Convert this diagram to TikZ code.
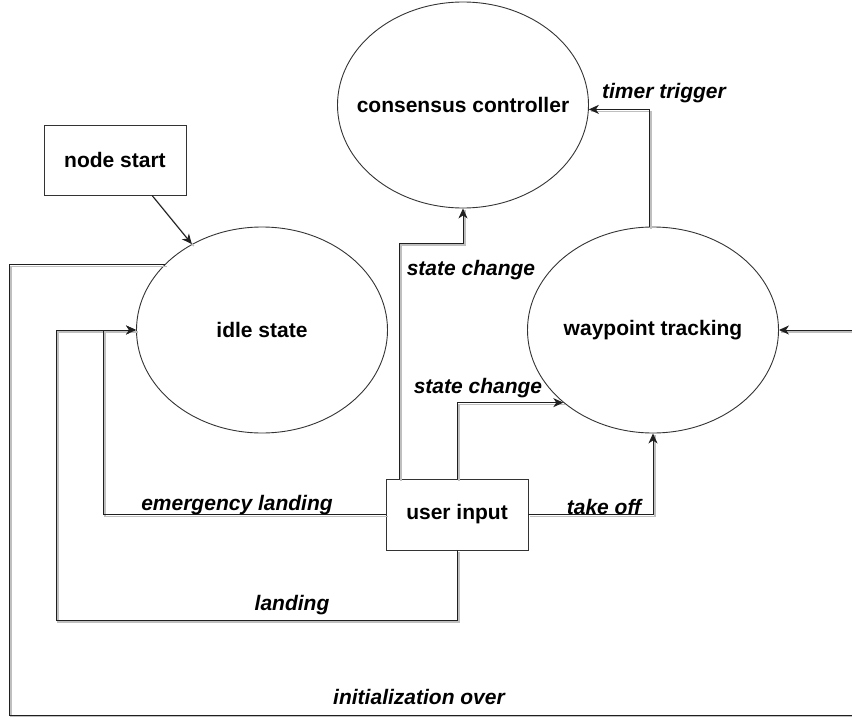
\documentclass[tikz,border=0pt]{standalone}
\usepackage{fontspec}
\setmainfont{Liberation Sans}
\usetikzlibrary{shapes.geometric,arrows.meta,calc}
\begin{document}
\begin{tikzpicture}[x=1pt,y=-1pt,
  every node/.style={font=\fontsize{21}{25}\selectfont\bfseries},
  stateell/.style={ellipse, draw=black!80, line width=0.9pt, minimum width=251pt, minimum height=206pt, inner sep=0pt},
  boxnode/.style={rectangle, draw=black!80, line width=0.9pt, inner sep=0pt},
  lbl/.style={font=\fontsize{21}{25}\selectfont\bfseries\itshape},
  conn/.style={draw=black!88, line width=1pt,
    preaction={draw=black!25, line width=1.3pt, arrows=-, transform canvas={shift={(2pt,-2pt)}}}},
  arr/.style={conn, -{Stealth[length=10pt,width=9pt,inset=3pt]}}
]
\useasboundingbox (0,0) rectangle (852,717);
\clip (0,0) rectangle (852,717);

% nodes
\node[stateell] (cc) at (463,105) {\makebox[0pt]{consensus controller}};
\node[stateell] (is) at (262,330) {\makebox[0pt]{idle state}};
\node[stateell] (wp) at (653,330) {\makebox[0pt]{waypoint tracking}};
\node[boxnode, minimum width=142pt, minimum height=70pt] (ns) at (115,160) {node start};
\node[boxnode, minimum width=142pt, minimum height=71pt] (ui) at (457,514.5) {user input};

% helper coordinates
\coordinate (initL) at (9,715);
\coordinate (initR) at (870,330);
\coordinate (landL) at (56,620);
\coordinate (emL) at (103,514.5);

% connectors
\draw[arr] (ns.south -| 152,0) -- (is);
\draw[arr] (is.146.6) -| (initL) -| (initR) -- (wp.east);
\draw[arr] (ui.south) |- (landL) |- (is.west);
\draw[arr] (ui.west) -- (emL) |- (is.west);
\draw[arr] (ui.north -| 399,0) |- (cc.south |- 0,243) -- (cc.south);
\draw[arr] (ui.north) |- (wp.219);
\draw[arr] (ui.east) -| (wp.south);
\draw[arr] (wp.north -| 649,0) |- (cc.-2);

% labels
\node[lbl] (l1) at (664,93) {timer trigger};
\node[lbl] (l2) at (471,270) {state change};
\node[lbl] (l3) at (478,388) {state change};
\node[lbl] (l4) at (237,505) {emergency landing};
\node[lbl] (l5) at (292,605) {landing};
\node[lbl] (l6) at (604,507) {take off};
\node[lbl] (l7) at (419,697) {initialization over};
\end{tikzpicture}
\end{document}
